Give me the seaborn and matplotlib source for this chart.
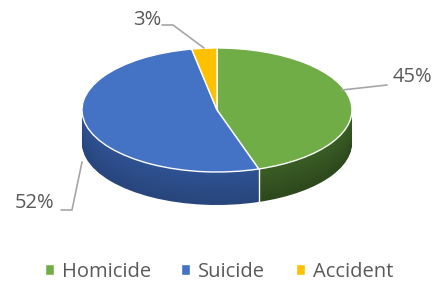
import numpy as np
import matplotlib
matplotlib.use('Agg')
import matplotlib.pyplot as plt
import seaborn as sns

categorias = ['Homicide', 'Suicide', 'Accident']
porcentajes = [45, 52, 3]
colores = ['#70AD47', '#4472C4', '#FFC000']
colores_lado = ['#3A5E25', '#2F5293', '#B38600']

sns.set_theme(style='white')
plt.rcParams['font.family'] = ['Open Sans', 'DejaVu Sans']

W, H = 438, 285
cx, cy, rx, ry = 217, 110, 135, 62
prof = 33 / ry

def px(x, y):
    return (x - cx) / rx, (cy - y) / ry

fig = plt.figure(figsize=(W / 100, H / 100), dpi=100)
ax = fig.add_axes([0, 0, 1, 1])

# lado del pastel (capas apiladas)
n = 40
for i in range(n, 0, -1):
    k = i / n
    cols = [sns.set_hls_values(c, l=max(0.0, sns.utils.colorsys.rgb_to_hls(*matplotlib.colors.to_rgb(c))[1] - 0.06 * k)) for c in colores_lado]
    ax.pie(porcentajes, colors=cols, startangle=90, counterclock=False,
           center=(0, -prof * k), radius=1, wedgeprops=dict(linewidth=0))

# linea blanca en el lado entre homicidio y suicidio
ang = np.deg2rad(90 - 360 * porcentajes[0] / sum(porcentajes))
ax.plot([np.cos(ang)] * 2, [np.sin(ang), np.sin(ang) - prof], color='white', lw=1)

wedges, _ = ax.pie(porcentajes, colors=colores, startangle=90, counterclock=False,
                   center=(0, 0), radius=1,
                   wedgeprops=dict(edgecolor='white', linewidth=1))

ax.set_aspect('auto')
x0, y0 = px(0, H)
x1, y1 = px(W, 0)
ax.set_xlim(x0, x1)
ax.set_ylim(y0, y1)
ax.axis('off')

gris = '#A6A6A6'
texto = '#595959'
# etiquetas con lineas guia
lineas = {
    'Homicide': [(342, 90), (387, 85)],
    'Suicide': [(82, 162), (72, 210), (61, 210)],
    'Accident': [(204, 48), (173, 25), (162, 25)],
}
etiquetas = {
    'Homicide': (412, 77),
    'Suicide': (35, 203),
    'Accident': (147, 20),
}
for cat, val in zip(categorias, porcentajes):
    pts = [px(*p) for p in lineas[cat]]
    ax.plot([p[0] for p in pts], [p[1] for p in pts], color=gris, lw=1.2)
    tx, ty = px(*etiquetas[cat])
    ax.text(tx, ty, f'{val}%', ha='center', va='center', fontsize=14.5, color=texto)

ax.legend(wedges, categorias, loc='center', bbox_to_anchor=(0.5, 1 - 272 / H),
          ncol=3, frameon=False, fontsize=14.5, handlelength=0.45, handleheight=0.45,
          handletextpad=0.4, columnspacing=1.5, labelcolor=texto)

fig.savefig('out.png', dpi=100)
